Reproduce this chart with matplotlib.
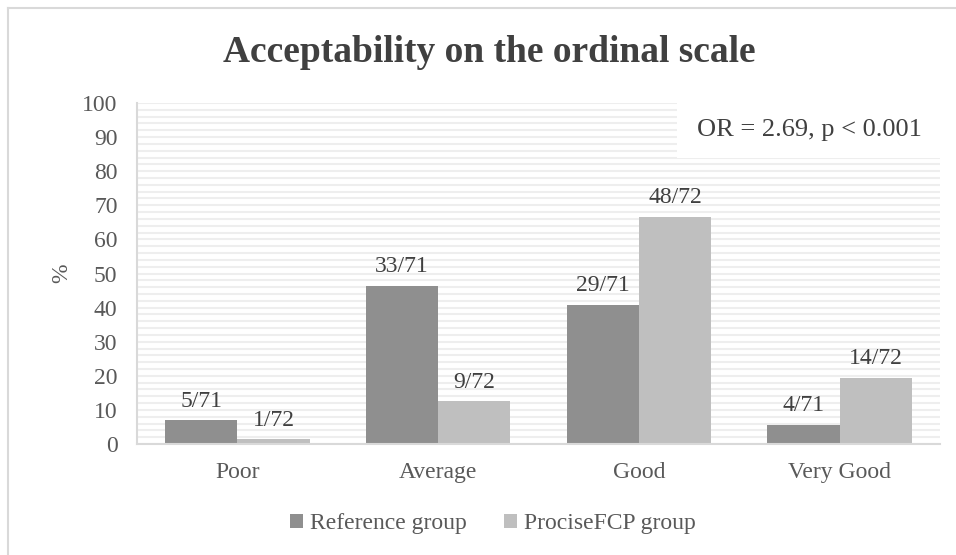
import matplotlib
matplotlib.use("Agg")
import matplotlib.pyplot as plt
import numpy as np
from matplotlib.patches import Rectangle

categories = ["Poor", "Average", "Good", "Very Good"]
ref_counts = [5, 33, 29, 4]
ref_total = 71
pro_counts = [1, 9, 48, 14]
pro_total = 72
ref_pct = [c / ref_total * 100 for c in ref_counts]
pro_pct = [c / pro_total * 100 for c in pro_counts]
series_names = ["Reference group", "ProciseFCP group"]
title = "Acceptability on the ordinal scale"
stat_text = "OR = 2.69, p < 0.001"

plt.rcParams['font.family'] = ['Liberation Serif', 'DejaVu Serif']

fig = plt.figure(figsize=(9.56, 5.55), dpi=100)
ax = fig.add_axes([137/956, 111/555, 803/956, 341/555])

x = np.arange(len(categories))
w = 0.36
ref_col = "#8f8f8f"
pro_col = "#bfbfbf"
b1 = ax.bar(x - w/2, ref_pct, w, color=ref_col, label=series_names[0], zorder=3)
b2 = ax.bar(x + w/2, pro_pct, w, color=pro_col, label=series_names[1], zorder=3)

txtcol = "#595959"
for bars, counts, tot in [(b1, ref_counts, ref_total), (b2, pro_counts, pro_total)]:
    for rect, c in zip(bars, counts):
        ax.annotate(f"{c}/{tot}", (rect.get_x() + rect.get_width()/2, rect.get_height()),
                    xytext=(0, 6), textcoords="offset points", ha="center", va="bottom",
                    fontsize=17, color="#404040")

ax.set_xlim(-0.5, 3.5)
ax.set_ylim(0, 100)
ax.set_yticks(np.arange(0, 101, 10))
ax.set_yticks(np.arange(0, 101, 2), minor=True)
ax.grid(True, which="both", axis="y", color="#eeeeee", linewidth=1.5, zorder=0)
ax.tick_params(axis="y", which="both", length=0, labelsize=17, labelcolor=txtcol, pad=14)
ax.set_xticks(x)
ax.set_xticklabels(categories)
ax.tick_params(axis="x", length=0, labelsize=17, labelcolor=txtcol, pad=13)
for s in ["top", "right"]:
    ax.spines[s].set_visible(False)
for s in ["left", "bottom"]:
    ax.spines[s].set_color("#d9d9d9")
    ax.spines[s].set_linewidth(1.5)
    ax.spines[s].set_zorder(4)

ax.set_ylabel("%", fontsize=17, color=txtcol, labelpad=4)
ax.yaxis.set_label_coords(-(137 - 72) / 803, 0.5)

# white box behind the statistic text
ax.add_patch(Rectangle((0.673, 0.84), 0.327, 0.16, transform=ax.transAxes,
                       facecolor="white", edgecolor="none", zorder=2))
ax.text(0.837, 0.92, stat_text, transform=ax.transAxes, ha="center", va="center",
        fontsize=19, color="#404040", zorder=5)

fig.text(489/956, 1 - 52/555, title, ha="center", va="center", fontsize=27,
         fontweight="bold", color="#404040")

leg = fig.legend(handles=[b1, b2], labels=series_names, loc="center",
                 bbox_to_anchor=(493/956, 1 - 524/555), ncol=2, frameon=False,
                 fontsize=17, handlelength=0.55, handleheight=0.55, handletextpad=0.3,
                 columnspacing=1.6)
for t in leg.get_texts():
    t.set_color(txtcol)

# outer chart border
fig.add_artist(plt.Line2D([8/956, 8/956], [1 - 8/555, 0], transform=fig.transFigure,
                          color="#d9d9d9", linewidth=1.5))
fig.add_artist(plt.Line2D([8/956, 1], [1 - 8/555, 1 - 8/555], transform=fig.transFigure,
                          color="#d9d9d9", linewidth=1.5))

fig.savefig("out.png", dpi=100, facecolor="white")
